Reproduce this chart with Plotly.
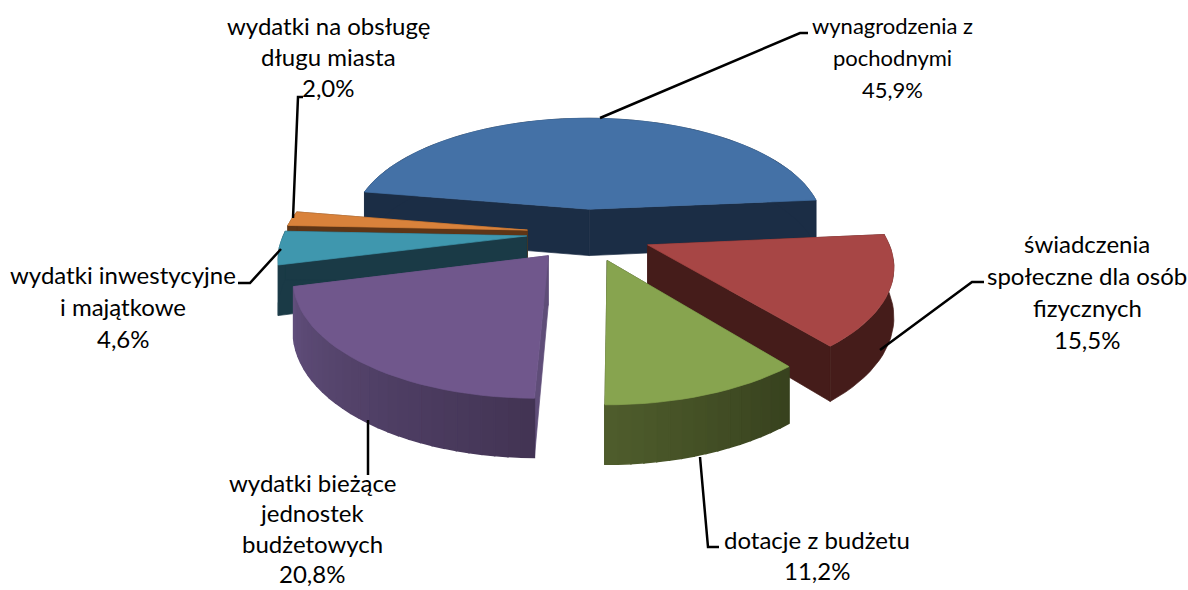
import numpy as np
import plotly.graph_objects as go

categories = ["wynagrodzenia z pochodnymi", "świadczenia społeczne dla osób fizycznych",
              "dotacje z budżetu", "wydatki bieżące jednostek budżetowych",
              "wydatki inwestycyjne i majątkowe", "wydatki na obsługę długu miasta"]
values = [45.9, 15.5, 11.2, 20.8, 4.6, 2.0]
value_labels = ["45,9%", "15,5%", "11,2%", "20,8%", "4,6%", "2,0%"]
label_lines = [["wynagrodzenia z", "pochodnymi"],
               ["świadczenia", "społeczne dla osób", "fizycznych"],
               ["dotacje z budżetu"],
               ["wydatki bieżące", "jednostek", "budżetowych"],
               ["wydatki inwestycyjne", "i majątkowe"],
               ["wydatki na obsługę", "długu miasta"]]
pulls = [0.22, 0.27, 0.25, 0.25, 0.25, 0.25]
top_colors = ["#4471A6", "#A74645", "#87A44F", "#70578C", "#3F97AE", "#D9823B"]
wall_start = ["#1B2D45", "#451C1A", "#38421E", "#433454", "#1A3A46", "#5E3516"]
wall_end = ["#1B2D45", "#451C1A", "#4E5C2C", "#604E7B", "#1A3A46", "#5E3516"]
radial_colors = ["#1B2D45", "#451C1A", "#38421E", "#5F4D78", "#1A3A46", "#5E3516"]
label_x = [892, 1087, 817, 312, 123, 328]
label_y = [25, 243, 539, 482, 274, 25]
label_step = [32, 32, 31, 30.5, 32, 31]
label_size = [22, 24, 24, 24, 24, 24]
leaders = [[(600, 118), (800, 33), (808, 33)],
           [(880, 350), (972, 282), (984, 282)],
           [(700, 457), (708, 547), (719, 547)],
           [(368, 420), (368, 475)],
           [(281, 249), (250, 283), (238, 283)],
           [(293, 218), (298, 97), (303, 97)]]

START = -83.0
CX, CY, A, B, K, DEPTH = 587.0, 233.0, 112.0, 240.0, 0.157, 48.0
SHEAR_X, SHEAR_Y = 0.05, 0.045
draw_order = [0, 5, 4, 1, 3, 2]


def project(u, v, z=0.0):
    w = 1 + K * v
    return CX + B * (u + SHEAR_X * v) / w, CY - A * (v - SHEAR_Y * u) / w + DEPTH * z / w


def hex_mix(c1, c2, t):
    a = [int(c1[i:i + 2], 16) for i in (1, 3, 5)]
    b = [int(c2[i:i + 2], 16) for i in (1, 3, 5)]
    return "#%02X%02X%02X" % tuple(int(round(x + (y - x) * t)) for x, y in zip(a, b))


fig = go.Figure()


def poly(pts, color, width=0.7):
    xs = [p[0] for p in pts] + [pts[0][0]]
    ys = [p[1] for p in pts] + [pts[0][1]]
    fig.add_trace(go.Scatter(x=xs, y=ys, mode="lines", fill="toself", fillcolor=color,
                             line=dict(color=color, width=width), hoverinfo="skip", showlegend=False))


total = sum(values)
edges = START + np.concatenate([[0], np.cumsum(values)]) / total * 360
for i in draw_order:
    a0, a1 = edges[i], edges[i + 1]
    mid = np.radians((a0 + a1) / 2)
    pu, pv = pulls[i] * np.sin(mid), pulls[i] * np.cos(mid)
    th = np.radians(np.linspace(a0, a1, max(3, int((a1 - a0) / 2.5) + 1)))
    us, vs = pu + np.sin(th), pv + np.cos(th)
    # radial walls
    for j in (0, -1):
        poly([project(pu, pv), project(us[j], vs[j]), project(us[j], vs[j], 1), project(pu, pv, 1)],
             radial_colors[i])
    n = len(th) - 1
    if wall_start[i] == wall_end[i]:
        # uniform outer wall: one polygon
        poly([project(u, v) for u, v in zip(us, vs)] +
             [project(u, v, 1) for u, v in zip(us[::-1], vs[::-1])], wall_start[i])
    else:
        # shaded outer wall: strips
        for j in range(n):
            poly([project(us[j], vs[j]), project(us[j + 1], vs[j + 1]),
                  project(us[j + 1], vs[j + 1], 1), project(us[j], vs[j], 1)],
                 hex_mix(wall_start[i], wall_end[i], j / max(n - 1, 1)), width=1.5)
    # top face
    poly([project(pu, pv)] + [project(u, v) for u, v in zip(us, vs)], top_colors[i])

for route in leaders:
    fig.add_trace(go.Scatter(x=[p[0] for p in route], y=[p[1] for p in route], mode="lines",
                             line=dict(color="#000000", width=2.5), hoverinfo="skip", showlegend=False))

annotations = []
for lines, val, lx, ly, step, sz in zip(label_lines, value_labels, label_x, label_y, label_step, label_size):
    for n, text in enumerate(lines + [val]):
        annotations.append(dict(x=lx, y=ly + n * step, text=text, showarrow=False, xref="x", yref="y",
                                xanchor="center", yanchor="middle", borderpad=0,
                                font=dict(family="Lato", size=sz, color="#000000")))

fig.update_layout(width=1188, height=590, margin=dict(l=0, r=0, t=0, b=0), paper_bgcolor="white",
                  plot_bgcolor="white", showlegend=False, annotations=annotations,
                  xaxis=dict(range=[0, 1188], visible=False, fixedrange=True),
                  yaxis=dict(range=[590, 0], visible=False, fixedrange=True))
fig.write_html("out.html", config={"displayModeBar": False},
               post_script="document.body.style.margin='0';document.documentElement.style.overflow='hidden';")
